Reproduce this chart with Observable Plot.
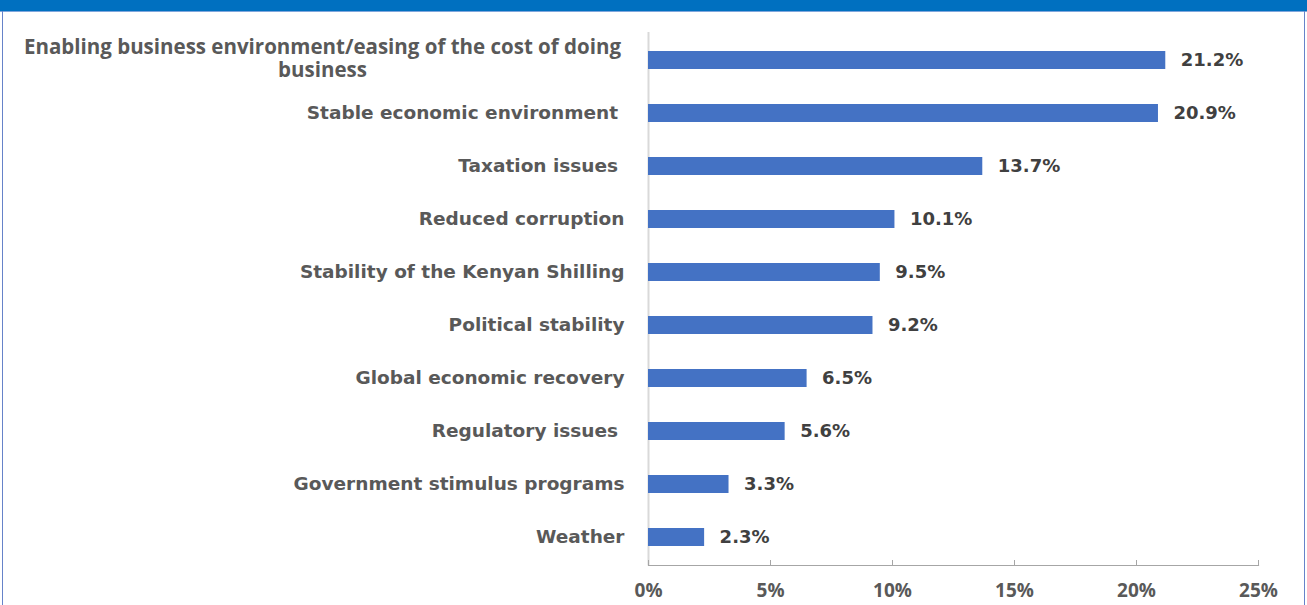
<!DOCTYPE html>
<html>
<head>
<meta charset="utf-8">
<script src="https://cdn.jsdelivr.net/npm/d3@7"></script>
<script src="https://cdn.jsdelivr.net/npm/@observablehq/plot@0.6"></script>
<style>
  html, body { margin: 0; padding: 0; background: #fff; }
  #wrap { position: relative; width: 1307px; height: 605px; overflow: hidden; }
  #chart { position: absolute; left: 0; top: 0; }
  #chart svg text { white-space: pre; }
  .band { position: absolute; left: 0; top: 0; width: 1307px; height: 11px; background: #0070C0; border-bottom: 1px solid #7fa6dc; }
  .frame { position: absolute; left: 2px; top: 11px; width: 1301px; height: 600px; border-left: 1.5px solid #6683c9; border-right: 1.5px solid #6683c9; pointer-events: none; }
</style>
</head>
<body>
<div id="wrap">
  <div id="chart"></div>
  <div class="band"></div>
  <div class="frame"></div>
</div>
<script>
const categories = [
  "Enabling business environment/easing of the cost of doing\nbusiness",
  "Stable economic environment ",
  "Taxation issues ",
  "Reduced corruption",
  "Stability of the Kenyan Shilling",
  "Political stability",
  "Global economic recovery",
  "Regulatory issues ",
  "Government stimulus programs",
  "Weather"
];
const values = [21.2, 20.9, 13.7, 10.1, 9.5, 9.2, 6.5, 5.6, 3.3, 2.3];
const xTicks = [0, 5, 10, 15, 20, 25];

const data = categories.map((c, i) => ({category: c, value: values[i]}));
const wrapped = categories.filter(c => c.includes("\n"));

const chart = Plot.plot({
  width: 1307,
  height: 605,
  marginLeft: 648,
  marginRight: 49,
  marginTop: 32,
  marginBottom: 40,
  style: {background: "transparent", overflow: "visible"},
  x: {domain: [0, 25]},
  y: {domain: categories, paddingInner: 0.66, paddingOuter: 0.32},
  marks: [
    Plot.frame({anchor: "bottom", stroke: "#a6a6a6", strokeWidth: 1.2}),
    Plot.ruleX([0], {stroke: "#d9d9d9", strokeWidth: 2}),
    Plot.barX(data, {x: "value", y: "category", fill: "#4472C4"}),
    Plot.text(data, {
      x: "value", y: "category",
      text: d => d.value.toFixed(1) + "%",
      textAnchor: "start", dx: 15, dy: 0,
      fontFamily: "DejaVu Sans", fontWeight: "bold", fontSize: 18, fill: "#404040"
    }),
    Plot.axisY({
      tickSize: 0, tickPadding: 24,
      tickFormat: d => d.includes("\n") ? "" : d,
      fontFamily: "DejaVu Sans", fontWeight: "bold", fontSize: 18.5, fill: "#595959",
      label: null
    }),
    Plot.text(wrapped, {
      y: d => d, text: d => d,
      frameAnchor: "left", dx: -326, dy: -2, textAnchor: "middle", lineAnchor: "middle",
      lineHeight: 1.12,
      fontFamily: "Open Sans", fontWeight: "bold", fontSize: 20.5, fill: "#595959"
    }),
    Plot.axisX({
      ticks: xTicks, tickFormat: d => d + "%",
      tickSize: -5, tickPadding: 23, stroke: "#a6a6a6",
      fontFamily: "Open Sans", fontWeight: "bold", fontSize: 19, fill: "#595959",
      label: null
    })
  ]
});
document.getElementById("chart").appendChild(chart);
</script>
</body>
</html>
